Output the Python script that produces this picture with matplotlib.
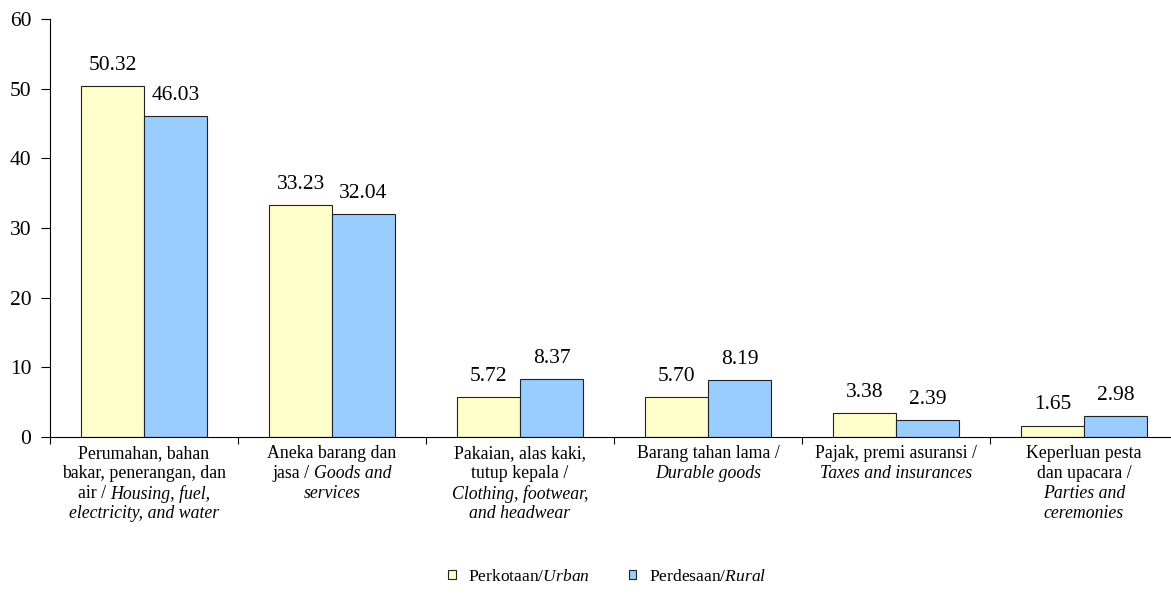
import numpy as np
import matplotlib.pyplot as plt
from matplotlib.patches import Patch

plt.rcParams['font.family'] = 'Liberation Serif'
plt.rcParams['mathtext.fontset'] = 'custom'
plt.rcParams['mathtext.rm'] = 'Liberation Serif'
plt.rcParams['mathtext.it'] = 'Liberation Serif:italic'

# kategori: tiap baris = (bagian tegak, bagian miring)
kategori = [
    [("Perumahan, bahan", ""), ("bakar, penerangan, dan", ""),
     ("air /", "Housing, fuel,"), ("", "electricity, and water")],
    [("Aneka barang dan", ""), ("jasa /", "Goods and"), ("", "services")],
    [("Pakaian, alas kaki,", ""), ("tutup kepala /", ""),
     ("", "Clothing, footwear,"), ("", "and headwear")],
    [("Barang tahan lama /", ""), ("", "Durable goods")],
    [("Pajak, premi asuransi /", ""), ("", "Taxes and insurances")],
    [("Keperluan pesta", ""), ("dan upacara /", ""), ("", "Parties and"), ("", "ceremonies")],
]
perkotaan = [50.32, 33.23, 5.72, 5.70, 3.38, 1.65]
perdesaan = [46.03, 32.04, 8.37, 8.19, 2.39, 2.98]

fig = plt.figure(figsize=(11.71, 5.93), dpi=100)
ax = fig.add_axes([50 / 1171, 1 - 437 / 593, 1 - 50 / 1171, (437 - 19) / 593])

x = np.arange(len(perkotaan))
w = 0.335
b1 = ax.bar(x - w / 2, perkotaan, w, color='#FFFFCC', edgecolor='#222222', linewidth=0.8)
b2 = ax.bar(x + w / 2, perdesaan, w, color='#99CCFF', edgecolor='#222222', linewidth=0.8)
for bars, vals in ((b1, perkotaan), (b2, perdesaan)):
    for r, v in zip(bars, vals):
        ax.annotate(f"{v:.2f}", (r.get_x() + r.get_width() / 2, v), xytext=(0, 8),
                    textcoords='offset points', ha='center', va='bottom', fontsize=15.5)

ax.set_yticks(range(0, 61, 10))
ax.tick_params(axis='y', labelsize=15.5, length=6.5, width=0.8, direction='out', pad=7)
ax.set_xticks([])
ax.set_xticks(np.arange(-0.5, 6, 1), minor=True)
ax.tick_params(axis='x', which='minor', length=5, width=0.8)
ax.set_ylim(0, 60)
ax.set_xlim(-0.5, 5.5 - 7 / 188)
for s in ('top', 'right'):
    ax.spines[s].set_visible(False)
for s in ('left', 'bottom'):
    ax.spines[s].set_linewidth(0.8)

# label kategori: teks tegak dan miring digabung per baris
fs = 12.8
lh = 20  # jarak baris, piksel
renderer = fig.canvas.get_renderer()


def lebar(s, style):
    t = fig.text(0, 0, s, fontsize=fs, style=style)
    wpx = t.get_window_extent(renderer).width
    t.remove()
    return wpx


spasi = lebar("a a", 'normal') - lebar("aa", 'normal')
for i, baris in enumerate(kategori):
    for j, (a, b) in enumerate(baris):
        wa = lebar(a, 'normal') if a else 0
        wb = lebar(b, 'italic') if b else 0
        gap = spasi if (a and b) else 0
        x0 = -(wa + gap + wb) / 2
        y0 = -8 - j * lh
        if a:
            ax.annotate(a, (i, 0), xycoords=('data', 'axes fraction'), xytext=(x0, y0),
                        textcoords='offset pixels', ha='left', va='top', fontsize=fs)
        if b:
            ax.annotate(b, (i, 0), xycoords=('data', 'axes fraction'), xytext=(x0 + wa + gap, y0),
                        textcoords='offset pixels', ha='left', va='top', fontsize=fs, style='italic')

handles = [Patch(facecolor='#FFFFCC', edgecolor='#222222', linewidth=0.8),
           Patch(facecolor='#99CCFF', edgecolor='#222222', linewidth=0.8)]
fig.legend(handles, ["Perkotaan/$\\mathit{Urban}$", "Perdesaan/$\\mathit{Rural}$"],
           loc='center', bbox_to_anchor=(607 / 1171, 1 - 577 / 593), ncol=2, frameon=False,
           fontsize=12.6, handlelength=0.45, handleheight=0.45, handletextpad=0.7,
           columnspacing=2.2)

fig.savefig('out.png', dpi=100)
